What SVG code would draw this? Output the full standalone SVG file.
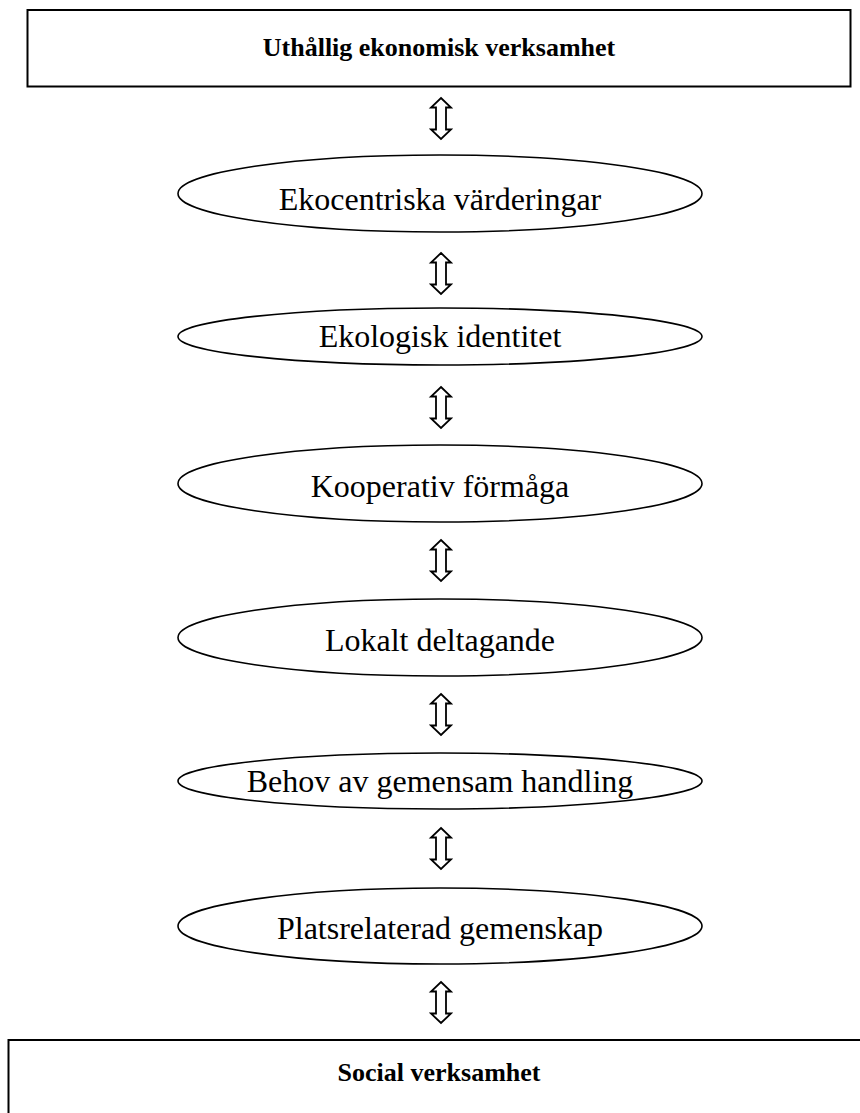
<svg xmlns="http://www.w3.org/2000/svg" width="860" height="1113" viewBox="0 0 860 1113">
<style>
.box{fill:#fff;stroke:#000;stroke-width:2}
.ell{fill:#fff;stroke:#000;stroke-width:1.6}
.arr{fill:#fff;stroke:#000;stroke-width:1.8;stroke-linejoin:miter}
.bt{font-family:"Liberation Serif",serif;font-weight:bold;font-size:26px;text-anchor:middle}
.et{font-family:"Liberation Serif",serif;font-size:32px;text-anchor:middle}
</style>
<defs>
<path id="dblarrow" d="M0,0 L10,9.5 L5,9.5 L5,31.5 L10,31.5 L0,41 L-10,31.5 L-5,31.5 L-5,9.5 L-10,9.5 Z"/>
</defs>
<rect width="860" height="1113" fill="#fff"/>
<g id="top-box">
<rect class="box" x="27.5" y="10" width="823" height="76.5"/>
<text class="bt" x="439" y="56">Uthållig ekonomisk verksamhet</text>
</g>
<g id="connectors">
<use href="#dblarrow" class="arr" x="441" y="98"/>
<use href="#dblarrow" class="arr" x="441" y="253"/>
<use href="#dblarrow" class="arr" x="441" y="387"/>
<use href="#dblarrow" class="arr" x="441" y="540"/>
<use href="#dblarrow" class="arr" x="441" y="694"/>
<use href="#dblarrow" class="arr" x="441" y="828"/>
<use href="#dblarrow" class="arr" x="441" y="982"/>
</g>
<g id="n1">
<ellipse class="ell" cx="440" cy="193.5" rx="262" ry="38.5"/>
<text class="et" x="440" y="210">Ekocentriska värderingar</text>
</g>
<g id="n2">
<ellipse class="ell" cx="440" cy="336.5" rx="262" ry="28.5"/>
<text class="et" x="440" y="347">Ekologisk identitet</text>
</g>
<g id="n3">
<ellipse class="ell" cx="440" cy="483.5" rx="262" ry="38.5"/>
<text class="et" x="440" y="497">Kooperativ förmåga</text>
</g>
<g id="n4">
<ellipse class="ell" cx="440" cy="637.5" rx="262" ry="38.5"/>
<text class="et" x="440" y="651">Lokalt deltagande</text>
</g>
<g id="n5">
<ellipse class="ell" cx="440" cy="781" rx="262" ry="28"/>
<text class="et" x="440" y="792">Behov av gemensam handling</text>
</g>
<g id="n6">
<ellipse class="ell" cx="440" cy="926" rx="262" ry="38"/>
<text class="et" x="440" y="939">Platsrelaterad gemenskap</text>
</g>
<g id="bottom-box">
<rect class="box" x="8.5" y="1040" width="900" height="120"/>
<text class="bt" x="439" y="1081">Social verksamhet</text>
</g>
</svg>
